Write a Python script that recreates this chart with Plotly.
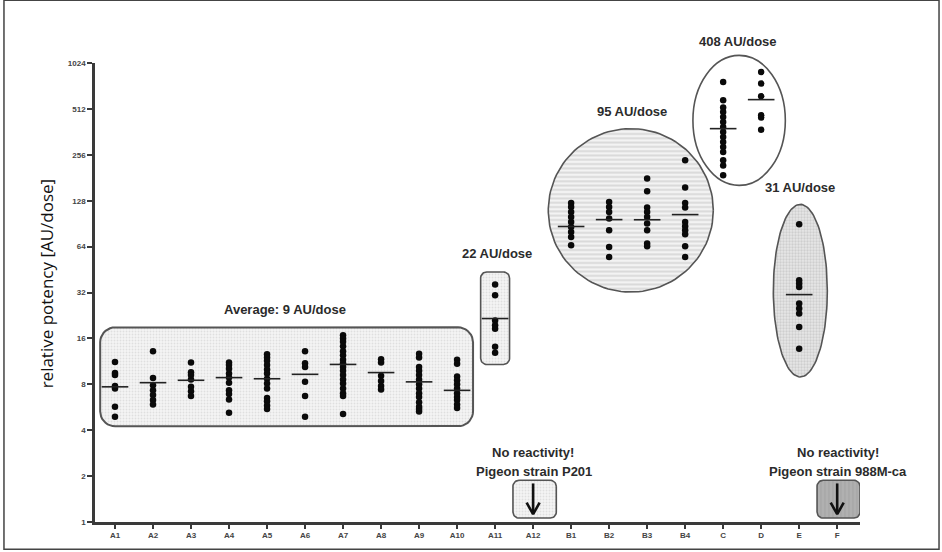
import numpy as np
import plotly.graph_objects as go

# ---- data -------------------------------------------------------------
categories = ["A1", "A2", "A3", "A4", "A5", "A6", "A7", "A8", "A9", "A10",
              "A11", "A12", "B1", "B2", "B3", "B4", "C", "D", "E", "F"]
y_ticks = [1, 2, 4, 8, 16, 32, 64, 128, 256, 512, 1024]

# relative potency of individual batches per pigeon strain [AU/dose]
a1 = [11.2, 9.5, 9.2, 7.8, 7.5, 5.7, 4.9]
a2 = [13.2, 8.8, 7.9, 7.3, 6.8, 6.3, 5.9]
a3 = [11.1, 9.6, 9.2, 8.6, 7.7, 7.2, 6.7]
a4 = [11.1, 10.7, 10.1, 9.4, 8.85, 8.2, 7.3, 6.9, 6.35, 5.2]
a5 = [12.6, 12.0, 11.4, 10.7, 10.0, 9.4, 8.7, 8.1, 7.5, 6.5, 6.2, 5.8, 5.5]
a6 = [13.2, 11.0, 10.4, 8.3, 6.7, 4.9]
a7 = [16.8, 16.0, 15.2, 14.2, 13.2, 12.4, 11.6, 11.0, 10.4, 9.8, 9.2, 8.6,
      8.1, 7.5, 7.0, 6.7, 5.1]
a8 = [11.7, 11.1, 9.1, 8.4, 7.8, 7.4]
a9 = [12.7, 12.0, 10.4, 9.8, 9.2, 8.6, 8.0, 7.5, 7.0, 6.6, 6.1, 5.7, 5.5, 5.3]
a10 = [11.6, 10.9, 9.0, 8.5, 8.0, 7.5, 7.0, 6.6, 6.3, 5.9, 5.6]
a11 = [36.1, 30.7, 21.0, 19.5, 18.5, 14.1, 12.9]
a12 = []
b1 = [123.6, 116.4, 107.9, 100.1, 92.8, 86.0, 79.8, 74.0, 65.3]
b2 = [125.5, 116.4, 107.9, 97.7, 81.9, 63.6, 54.7]
b3 = [178.7, 147.5, 115.4, 107.9, 100.1, 90.6, 81.9, 67.0, 64.3]
b4 = [235.6, 156.0, 123.6, 115.4, 92.8, 87.0, 81.9, 77.1, 64.3, 54.7]
c = [768, 583, 522, 489, 453, 420, 390, 361, 335, 311, 288, 267, 236, 218, 188]
d = [894, 750, 619, 465, 449, 374]
e = [89.6, 38.5, 36.6, 34.8, 27.1, 25.1, 23.3, 19.0, 13.7]
f = []

# geometric mean per strain (None: no reactivity)
group_means = [7.7, 8.2, 8.5, 8.85, 8.7, 9.3, 10.8, 9.55, 8.3, 7.3,
               21.6, None, 86.7, 96.2, 96.0, 103.8, 380, 589, 31.0, None]

strain_values = [a1, a2, a3, a4, a5, a6, a7, a8, a9, a10, a11, a12,
                 b1, b2, b3, b4, c, d, e, f]

# ---- axes / geometry helpers -----------------------------------------
X_RANGE = [-0.526, 19.6]
Y_DOUBLINGS = 10          # 1 ... 1024
PX_X = 38.0               # pixels per category step
PX_Y = 45.9               # pixels per doubling of potency
INK = "#2b2b2b"
EDGE = "#555555"


def rounded_box(x0, x1, v0, v1, r_px, n=10):
    """Rounded rectangle in category units (x) and potency values (y)."""
    l0, l1 = np.log2(v0), np.log2(v1)
    rx, ry = r_px / PX_X, r_px / PX_Y
    corners = [(x1 - rx, l1 - ry, 0, 90), (x0 + rx, l1 - ry, 90, 180),
               (x0 + rx, l0 + ry, 180, 270), (x1 - rx, l0 + ry, 270, 360)]
    xs, ys = [], []
    for cx, cy, a0, a1_ in corners:
        t = np.radians(np.linspace(a0, a1_, n))
        xs += list(cx + rx * np.cos(t))
        ys += list(2 ** (cy + ry * np.sin(t)))
    xs.append(xs[0])
    ys.append(ys[0])
    return xs, ys


def ellipse(cx, cl, rx_px, ry_px, n=120):
    t = np.linspace(0, 2 * np.pi, n)
    xs = cx + (rx_px / PX_X) * np.cos(t)
    ys = 2 ** (cl + (ry_px / PX_Y) * np.sin(t))
    return list(xs), list(ys)


def to_paper_x(x):
    return (x - X_RANGE[0]) / (X_RANGE[1] - X_RANGE[0])


def to_paper_y(log2_v):
    return log2_v / Y_DOUBLINGS


fig = go.Figure()


def add_region(xs, ys, pattern, line_w=1.6):
    fig.add_trace(go.Scatter(
        x=xs, y=ys, mode="lines", fill="toself",
        line=dict(color=EDGE, width=line_w),
        fillcolor=pattern.get("bgcolor", "white"),
        fillpattern=pattern, hoverinfo="skip", showlegend=False))


dots_light = dict(shape=".", size=3, solidity=0.35,
                  fgcolor="#c9c9c9", bgcolor="#f5f5f5")
dots_mid = dict(shape=".", size=3, solidity=0.45,
                fgcolor="#b5b5b5", bgcolor="#e6e6e6")
stripes_h = dict(shape="-", size=4.3, solidity=0.45,
                 fgcolor="#bfbfbf", bgcolor="#f3f3f3")
stripes_v = dict(shape="|", size=4, solidity=0.35,
                 fgcolor="#9c9c9c", bgcolor="#b0b0b0")

# group outlines
add_region(*rounded_box(-0.39, 9.42, 4.24, 18.9, 15), dots_light, 2.0)
add_region(*rounded_box(9.62, 10.38, 10.8, 43.6, 6), dots_light)
add_region(*rounded_box(10.47, 11.61, 1.062, 1.877, 6), dots_light)
add_region(*rounded_box(18.47, 19.6, 1.062, 1.877, 6), stripes_v)
add_region(*ellipse(13.57, 6.79, 82.5, 81.7), stripes_h)
add_region(*ellipse(18.03, 5.04, 27.0, 86.3), dots_mid)

# the C/D outline reaches above the top of the axis, so it is a paper shape
cd_cx, cd_cl, cd_rx, cd_ry = 16.42, 8.75, 46.2, 65.0
cd_shape = dict(
    type="circle", xref="paper", yref="paper", layer="below",
    x0=to_paper_x(cd_cx - cd_rx / PX_X), x1=to_paper_x(cd_cx + cd_rx / PX_X),
    y0=to_paper_y(cd_cl - cd_ry / PX_Y), y1=to_paper_y(cd_cl + cd_ry / PX_Y),
    line=dict(color=EDGE, width=1.6), fillcolor="white")

# "no reactivity" arrows
for xi in (categories.index("A12"), categories.index("F")):
    hw = 6.5 / PX_X
    fig.add_trace(go.Scatter(
        x=[xi, xi, None, xi - hw, xi, xi + hw],
        y=[2 ** 0.84, 2 ** 0.18, None, 2 ** 0.42, 2 ** 0.17, 2 ** 0.42],
        mode="lines", line=dict(color="#111111", width=2.6),
        hoverinfo="skip", showlegend=False))

# individual batches
px_, py_ = [], []
for i, vals in enumerate(strain_values):
    px_ += [i] * len(vals)
    py_ += vals
fig.add_trace(go.Scatter(
    x=px_, y=py_, mode="markers",
    marker=dict(color="#0a0a0a", size=6.5, line=dict(width=0)),
    showlegend=False))

# geometric-mean bars
half = 13.3 / PX_X
mx, my = [], []
for i, m in enumerate(group_means):
    if m is None:
        continue
    mx += [i - half, i + half, None]
    my += [m, m, None]
fig.add_trace(go.Scatter(x=mx, y=my, mode="lines",
                         line=dict(color="#222222", width=1.6),
                         hoverinfo="skip", showlegend=False))

# group labels (x in category units, y as log2 of potency)
label_font = dict(family="Liberation Sans Narrow, Arial Narrow, Liberation Sans, Arial",
                  size=13, color=INK)
labels = [
    (4.47, 4.634, "Average: 9 AU/dose"),
    (10.05, 5.854, "22 AU/dose"),
    (13.6, 8.95, "95 AU/dose"),
    (16.38, 10.46, "408 AU/dose"),
    (18.03, 7.29, "31 AU/dose"),
    (11.01, 1.52, "No reactivity!"),
    (11.02, 1.09, "Pigeon strain P201"),
    (19.03, 1.52, "No reactivity!"),
    (19.01, 1.09, "Pigeon strain 988M-ca"),
]
annotations = [dict(
    x=to_paper_x(lx), y=to_paper_y(ly), xref="paper", yref="paper",
    text="<b>%s</b>" % txt, showarrow=False,
    xanchor="center", yanchor="middle", font=label_font)
    for lx, ly, txt in labels]

annotations.append(dict(
    text="relative potency [AU/dose]", textangle=-90,
    xref="paper", yref="paper", x=-0.064, y=0.52,
    xanchor="center", yanchor="middle", showarrow=False,
    font=dict(family="Open Sans", size=17, color="#111111")))

tick_font = dict(family="Liberation Sans, Arial", size=8, color="#444444",
                 weight="bold")

fig.update_layout(
    width=942, height=552,
    margin=dict(l=95, r=82, t=63, b=30, autoexpand=False),
    paper_bgcolor="white", plot_bgcolor="white",
    showlegend=False, hovermode=False,
    xaxis=dict(range=X_RANGE, tickmode="array",
               tickvals=list(range(len(categories))), ticktext=categories,
               showgrid=False, zeroline=False, showline=True,
               linecolor="#3a3a3a", linewidth=2.5,
               ticks="outside", ticklen=4, tickwidth=1.5, tickcolor="#3a3a3a",
               tickfont=tick_font),
    yaxis=dict(type="log", range=[0, Y_DOUBLINGS * np.log10(2)],
               tickmode="array",
               tickvals=y_ticks, ticktext=[str(v) for v in y_ticks],
               showgrid=False, zeroline=False, showline=True,
               linecolor="#3a3a3a", linewidth=2.5,
               ticks="outside", ticklen=5, tickwidth=1.5, tickcolor="#3a3a3a",
               tickfont=tick_font),
    annotations=annotations,
    shapes=[cd_shape,
            dict(type="rect", xref="paper", yref="paper",
                 x0=-0.119, x1=1.1033, y0=-0.0595, y1=1.1366,
                 line=dict(color="#444444", width=1.5))],
)

fig.write_html("out.html")
